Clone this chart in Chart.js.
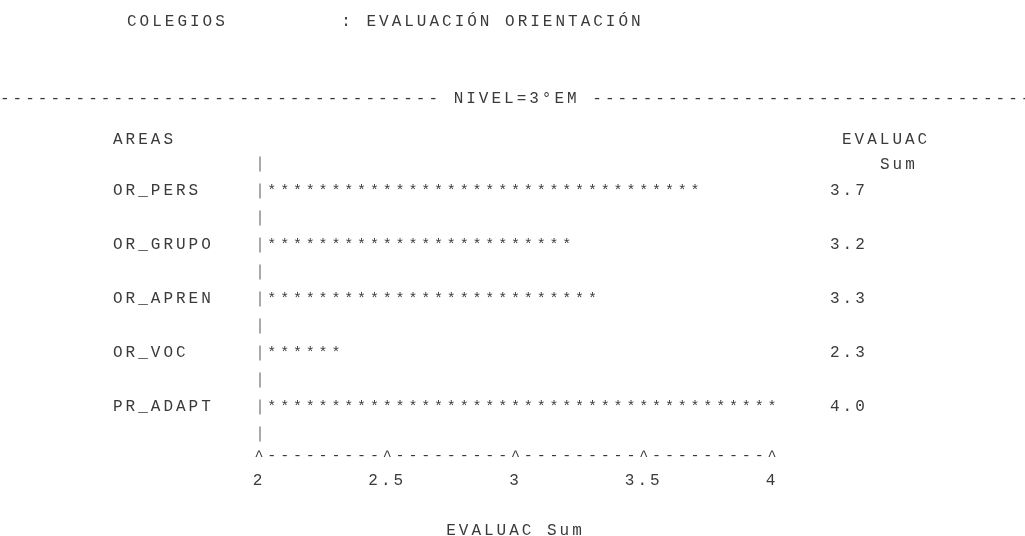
<!DOCTYPE html>
<html><head><meta charset="utf-8">
<script src="https://cdn.jsdelivr.net/npm/chart.js@4.4.1/dist/chart.umd.min.js"></script>
<style>html,body{margin:0;padding:0;background:#fff;overflow:hidden}</style>
</head><body>
<canvas id="c" width="1025" height="536"></canvas>
<script>
// ---- data ----
const categories = ['OR_PERS', 'OR_GRUPO', 'OR_APREN', 'OR_VOC', 'PR_ADAPT'];
const evaluacSum = [3.7, 3.2, 3.3, 2.3, 4.0];
const axisTicks = [2, 2.5, 3, 3.5, 4];
const axisMin = 2, axisMax = 4;
const symbolStep = 0.05; // each '*' / axis character stands for 0.05
const titleText = 'COLEGIOS         : EVALUACIÓN ORIENTACIÓN';
const byLine = 'NIVEL=3°EM';
const rowLabelHeader = 'AREAS';
const valueHeader = ['EVALUAC', 'Sum'];
const axisTitle = 'EVALUAC Sum';

// ---- style ----
const FONT = "'Liberation Mono', 'Courier New', monospace";
const FS = 16;
const LS = '3px';
const INK = '#3a3a3a';
const PIPE = '#8c8c8c';

const textChart = {
  id: 'textChart',
  beforeDraw(chart) {
    const ctx = chart.ctx;
    ctx.letterSpacing = LS;
    ctx.save();
    ctx.font = FS + 'px ' + FONT;
    ctx.fillStyle = INK;
    ctx.textAlign = 'left';
    ctx.textBaseline = 'middle';
    ctx.fillText(titleText, 127, 22);
    ctx.fillText('-'.repeat(35) + ' ' + byLine + ' ' + '-'.repeat(35), 0, 99);
    ctx.fillText(rowLabelHeader, 113, 140);
    ctx.fillText(valueHeader[0], 842, 140);
    ctx.fillText(valueHeader[1], 880, 165);
    ctx.restore();
  },
  afterDatasetsDraw(chart) {
    const ctx = chart.ctx;
    const xs = chart.scales.x, ys = chart.scales.y;
    ctx.save();
    ctx.font = FS + 'px ' + FONT;
    ctx.fillStyle = INK;
    // vertical axis made of '|' pieces
    ctx.strokeStyle = PIPE;
    ctx.lineWidth = 1.5;
    const px = xs.getPixelForValue(axisMin) + 1;
    for (let j = 0; j <= categories.length * 2; j++) {
      const y = ys.getPixelForValue(-0.5 + j * 0.5);
      ctx.beginPath();
      ctx.moveTo(px, y - 7.5);
      ctx.lineTo(px, y + 7.5);
      ctx.stroke();
    }
    // bars made of '*'
    const meta = chart.getDatasetMeta(0);
    meta.data.forEach((bar, i) => {
      const v = evaluacSum[i];
      const y = bar.y;
      const n = Math.round((v - axisMin) / symbolStep);
      ctx.letterSpacing = '0px';
      ctx.textAlign = 'center';
      ctx.textBaseline = 'middle';
      ctx.font = '15px ' + FONT;
      for (let k = 1; k <= n; k++) {
        ctx.fillText('*', xs.getPixelForValue(axisMin + k * symbolStep), y);
      }
      ctx.font = FS + 'px ' + FONT;
      ctx.letterSpacing = LS;
      ctx.textAlign = 'left';
      ctx.fillText(v.toFixed(1), xs.right + 58, y);
    });
    // horizontal axis made of '^' and '-'
    ctx.letterSpacing = '0px';
    ctx.font = '15px ' + FONT;
    ctx.textAlign = 'center';
    ctx.textBaseline = 'alphabetic';
    const ay = xs.top + 26;
    const steps = Math.round((axisMax - axisMin) / symbolStep);
    for (let k = 0; k <= steps; k++) {
      const val = axisMin + k * symbolStep;
      const isTick = axisTicks.some(t => Math.abs(t - val) < 1e-6);
      ctx.fillText(isTick ? '^' : '-', xs.getPixelForValue(val), ay);
    }
    ctx.restore();
    ctx.letterSpacing = LS;
  }
};

new Chart(document.getElementById('c'), {
  type: 'bar',
  data: {
    labels: categories,
    datasets: [{
      label: axisTitle,
      data: evaluacSum,
      backgroundColor: 'rgba(0,0,0,0)',
      borderWidth: 0
    }]
  },
  options: {
    indexAxis: 'y',
    responsive: false,
    animation: false,
    devicePixelRatio: 1,
    layout: { padding: { left: 113, right: 253, top: 164, bottom: 0 } },
    plugins: { legend: { display: false }, tooltip: { enabled: false }, title: { display: false } },
    scales: {
      x: {
        type: 'linear', min: axisMin, max: axisMax, position: 'bottom',
        afterBuildTicks: s => { s.ticks = axisTicks.map(v => ({ value: v })); },
        afterFit: s => { s.height = 102; },
        grid: { display: false, drawTicks: false },
        border: { display: false },
        ticks: { color: INK, font: { family: FONT, size: FS }, padding: 37, maxRotation: 0, autoSkip: false,
                 callback: v => String(v) },
        title: { display: true, text: axisTitle, color: INK, font: { family: FONT, size: FS },
                 padding: { top: 0, bottom: -4 } }
      },
      y: {
        type: 'category', offset: true,
        grid: { display: false, drawTicks: false },
        border: { display: false },
        afterFit: s => { s.width = 146; },
        ticks: { color: INK, font: { family: FONT, size: FS }, crossAlign: 'far', padding: 0 }
      }
    }
  },
  plugins: [textChart]
});
</script>
</body></html>
